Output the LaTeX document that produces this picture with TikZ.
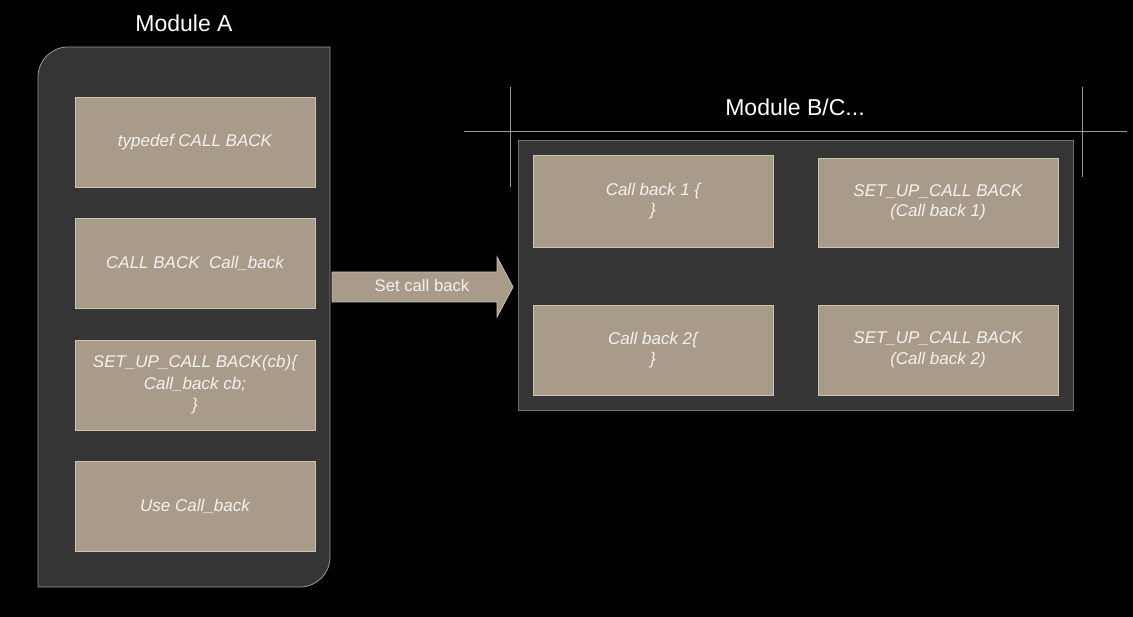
\documentclass[tikz,border=0pt]{standalone}
\usepackage{fontspec}
\setmainfont{Liberation Sans}
\definecolor{bg}{HTML}{000000}
\definecolor{panel}{HTML}{353535}
\definecolor{panelline}{HTML}{9A9890}
\definecolor{boxfill}{HTML}{A89B8A}
\definecolor{boxline}{HTML}{CBC2B4}
\definecolor{txt}{HTML}{F4F2EE}
\begin{document}
\begin{tikzpicture}[x=1pt,y=-1pt,
  cbox/.style={draw=boxline,fill=boxfill,line width=0.8pt,minimum width=240pt,minimum height=90pt,
    inner sep=0pt,text=txt,font=\fontsize{17}{21.5}\selectfont\itshape,align=center},
  title/.style={text=white,font=\fontsize{23}{27}\selectfont,inner sep=0pt}]
\fill[bg] (0,0) rectangle (1133,617);
\useasboundingbox (0,0) rectangle (1133,617);
% Module A panel
\draw[panelline,fill=panel,line width=0.8pt] (38,77) .. controls (38,60.4) and (51.4,47) .. (68,47) -- (330,47) -- (330,557) .. controls (330,573.6) and (316.6,587) .. (300,587) -- (38,587) -- cycle;
\node[title] (ta) at (184,23) {Module A};
\node[cbox] (a1) at (195,142) {typedef CALL BACK};
\node[cbox] (a2) at (195,263) {CALL BACK\ \ Call\_back};
\node[cbox] (a3) at (195,385) {SET\_UP\_CALL BACK(cb)\{\\Call\_back cb;\\\}};
\node[cbox] (a4) at (195,506) {Use Call\_back};
% Module B panel
\draw[panelline!60!panel,fill=panel,line width=0.8pt] (518,140) rectangle (1073,410);
\draw[panelline,line width=0.8pt] (510,87) -- (510,187);
\draw[panelline,line width=0.8pt] (1082,87) -- (1082,177);
\draw[panelline,line width=0.8pt] (464,131) -- (1127,131);
\node[title] (tb) at (795,107) {Module B/C...};
\node[cbox,minimum height=92pt,font=\fontsize{17}{20.5}\selectfont\itshape] (b1) at (653,201) {Call back 1 \{\\\}};
\node[cbox,minimum height=89pt,font=\fontsize{17}{20.5}\selectfont\itshape] (b2) at (938,202.5) {SET\_UP\_CALL BACK\\(Call back 1)};
\node[cbox,font=\fontsize{17}{20.5}\selectfont\itshape] (b3) at (653,350) {Call back 2\{\\\}};
\node[cbox,font=\fontsize{17}{20.5}\selectfont\itshape] (b4) at (938,350) {SET\_UP\_CALL BACK\\(Call back 2)};
% arrow
\draw[boxline,fill=boxfill,line width=0.8pt] (332,272) -- (497,272) -- (497,257) -- (513,287) -- (497,317) -- (497,302) -- (332,302) -- cycle;
\node[text=txt,font=\fontsize{16.7}{19}\selectfont,inner sep=0pt] (arr) at (422,286) {Set call back};
\end{tikzpicture}
\end{document}
